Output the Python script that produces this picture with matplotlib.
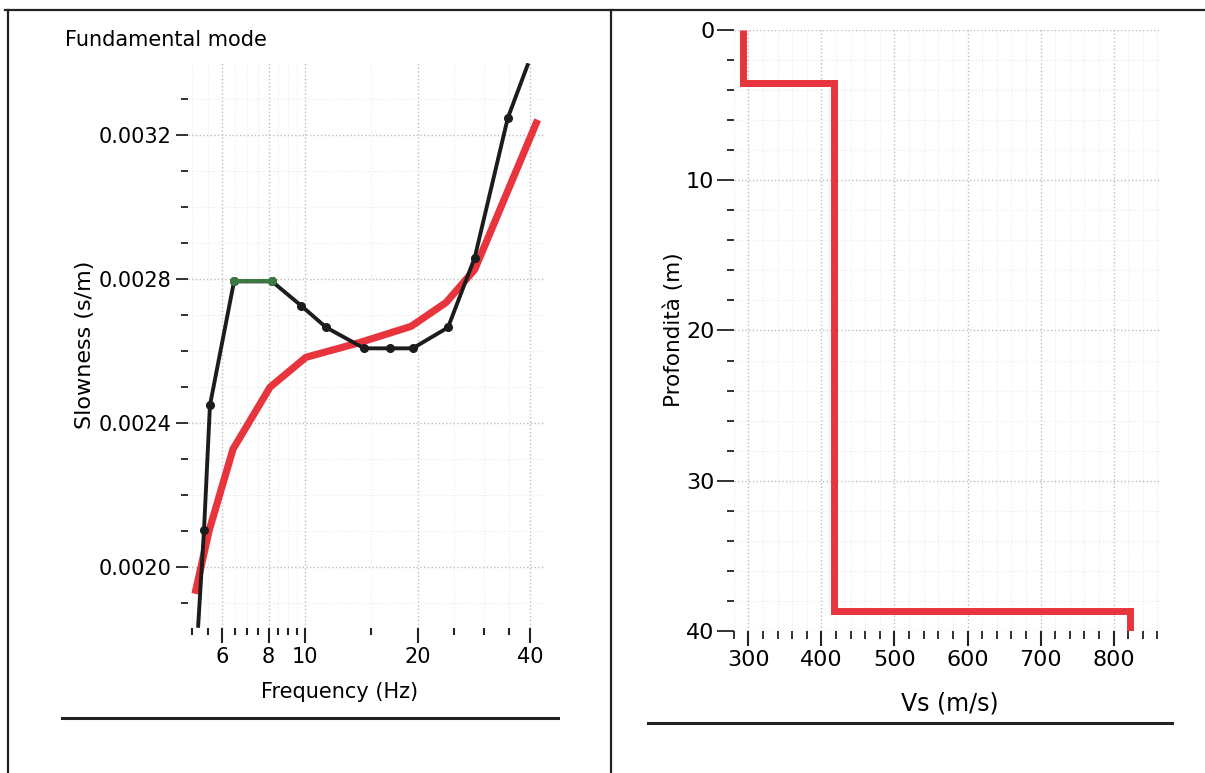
import matplotlib
matplotlib.use('Agg')
import matplotlib.pyplot as plt
from matplotlib.lines import Line2D
from matplotlib.ticker import FixedLocator, NullFormatter
import numpy as np

# Dispersion curve - experimental (picked) points
freq_exp = [5.19, 5.38, 5.58, 6.47, 8.17, 9.76, 11.4, 14.4, 16.9, 19.4, 24.1, 28.4, 34.8, 39.3]
slow_exp = [0.001836, 0.002102, 0.002449, 0.002793, 0.002793, 0.002726, 0.002665,
            0.002607, 0.002607, 0.002607, 0.002665, 0.002859, 0.003247, 0.003394]
# segment of the experimental curve drawn in green
green_idx = [3, 4]

# Dispersion curve - theoretical (model)
freq_th = [5.09, 5.55, 6.43, 8.07, 10.06, 14.0, 19.2, 23.8, 28.4, 41.8]
slow_th = [0.001925, 0.002100, 0.002327, 0.002499, 0.002582, 0.002623, 0.002668,
           0.002734, 0.002826, 0.003242]

# Vs profile
layer_top = [0.0, 3.5, 38.7]
layer_vs = [292, 417, 823]
max_depth = 40.0

freq_major = [6, 8, 10, 20, 40]
freq_minor = [5, 5.5, 6.5, 7, 7.5, 8.5, 9, 9.5, 15, 25, 30, 35]
slow_major = [0.0020, 0.0024, 0.0028, 0.0032]
slow_labels = ['0.0020', '0.0024', '0.0028', '0.0032']
slow_minor = [0.0019, 0.0021, 0.0022, 0.0023, 0.0025, 0.0026, 0.0027, 0.0029,
              0.0030, 0.0031, 0.0033]
vs_major = [300, 400, 500, 600, 700, 800]
depth_major = [0, 10, 20, 30, 40]

RED = '#e8343c'
BLACK = '#1c1c1c'
GREEN = '#3c7a42'
GRID = '#bdbdbd'
GRID_MINOR = '#ebebeb'

fig = plt.figure(figsize=(12.05, 7.73), dpi=100)

# ---------------- left panel: dispersion curve ----------------
ax1 = fig.add_axes([0.156, 0.1876, 0.296, 0.731])
ax1.set_xscale('log')
ax1.set_xlim(4.875, 43.65)
ax1.set_ylim(0.00183, 0.00340)

ax1.plot(freq_th, slow_th, color=RED, lw=5.2, solid_capstyle='butt', zorder=3)
ax1.plot(freq_exp, slow_exp, color=BLACK, lw=2.8, zorder=4)
ax1.plot(freq_exp[1:-1], slow_exp[1:-1], 'o', color=BLACK, ms=5.5, zorder=5)
gx = [freq_exp[i] for i in green_idx]
gy = [slow_exp[i] for i in green_idx]
ax1.plot(gx, gy, color=GREEN, lw=2.8, marker='o', ms=5.5, zorder=6)

ax1.xaxis.set_major_locator(FixedLocator(freq_major))
ax1.xaxis.set_minor_locator(FixedLocator(freq_minor))
ax1.set_xticklabels([str(f) for f in freq_major])
ax1.xaxis.set_minor_formatter(NullFormatter())
ax1.yaxis.set_major_locator(FixedLocator(slow_major))
ax1.yaxis.set_minor_locator(FixedLocator(slow_minor))
ax1.set_yticklabels(slow_labels)

ax1.tick_params(axis='x', which='major', length=11, width=1.5, labelsize=15, pad=3, color='#222222')
ax1.tick_params(axis='x', which='minor', length=5, width=1.5, color='#222222')
ax1.tick_params(axis='y', which='major', length=9, width=1.3, labelsize=15, pad=3, color='#222222')
ax1.tick_params(axis='y', which='minor', length=5, width=1.3, color='#222222')

ax1.grid(True, which='major', color=GRID, ls=':', lw=1.0)
ax1.grid(True, which='minor', color=GRID_MINOR, ls=':', lw=0.8)
for s in ax1.spines.values():
    s.set_visible(False)

fig.text(0.054, 0.948, 'Fundamental mode', fontsize=15, ha='left', va='center')
fig.text(0.0705, 0.5537, 'Slowness (s/m)', fontsize=16, rotation=90, ha='center', va='center')
fig.text(0.282, 0.105, 'Frequency (Hz)', fontsize=15, ha='center', va='center')

# ---------------- right panel: Vs profile ----------------
ax2 = fig.add_axes([0.609, 0.1837, 0.3545, 0.7775])
ax2.set_xlim(280, 865)
ax2.set_ylim(max_depth, 0)

# build step profile from layer arrays
bounds = layer_top[1:] + [max_depth]
px, py = [], []
for top, bot, v in zip(layer_top, bounds, layer_vs):
    px += [v, v]
    py += [top, bot]
ax2.plot(px, py, color=RED, lw=5, solid_joinstyle='miter', solid_capstyle='butt', zorder=3)

ax2.xaxis.set_major_locator(FixedLocator(vs_major))
ax2.xaxis.set_minor_locator(FixedLocator(np.arange(280, 861, 20)))
ax2.yaxis.set_major_locator(FixedLocator(depth_major))
ax2.yaxis.set_minor_locator(FixedLocator(np.arange(0, 41, 2)))

ax2.tick_params(axis='x', which='major', length=11, width=1.5, labelsize=16, pad=3, color='#222222')
ax2.tick_params(axis='x', which='minor', length=6, width=1.3, color='#222222')
ax2.tick_params(axis='y', which='major', length=12, width=1.3, labelsize=16, pad=2, color='#222222')
ax2.tick_params(axis='y', which='minor', length=5, width=1.3, color='#222222')

ax2.grid(True, which='major', color=GRID, ls=':', lw=1.0)
ax2.grid(True, which='minor', color=GRID_MINOR, ls=':', lw=0.8)
for s in ax2.spines.values():
    s.set_visible(False)

fig.text(0.5595, 0.573, 'Profondità (m)', fontsize=15.5, rotation=90, ha='center', va='center')
fig.text(0.788, 0.0905, 'Vs (m/s)', fontsize=17, ha='center', va='center')

# ---------------- page frame lines ----------------
frame = [
    ([0.004, 1.0], [0.987, 0.987], 1.6),
    ([0.0066, 0.0066], [0.987, 0.0], 1.6),
    ([0.507, 0.507], [0.987, 0.0], 1.6),
    ([0.0515, 0.463], [0.0712, 0.0712], 2.2),
    ([0.538, 0.9726], [0.0647, 0.0647], 2.2),
]
for xs, ys, lw in frame:
    fig.add_artist(Line2D(xs, ys, color='#222222', lw=lw, transform=fig.transFigure))

fig.savefig('out.png', dpi=100)
